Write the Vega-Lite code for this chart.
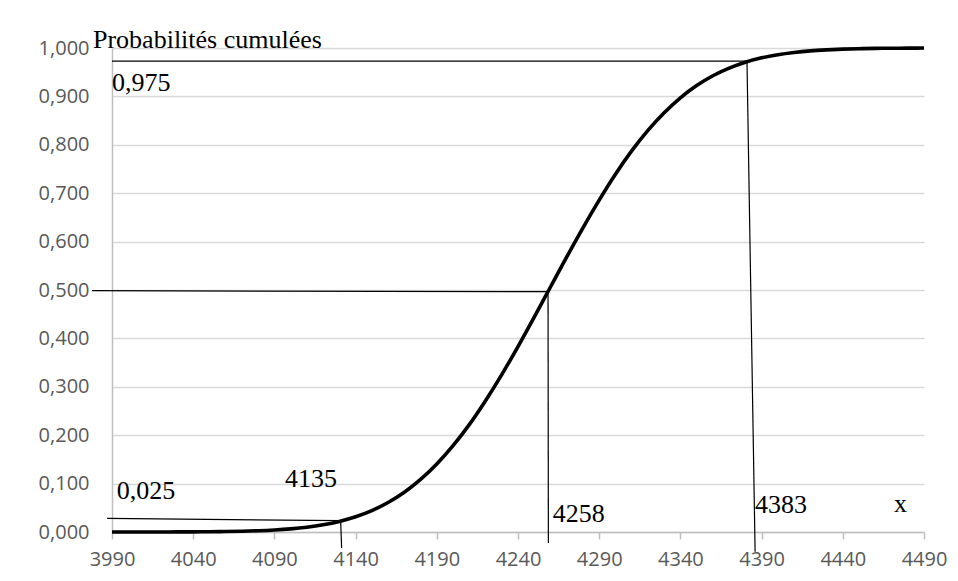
{
  "$schema": "https://vega.github.io/schema/vega-lite/v6.json",
  "width": 812,
  "height": 484,
  "autosize": {"type": "none"},
  "padding": {"left": 112, "top": 48, "right": 34, "bottom": 49},
  "background": "white",
  "config": {"view": {"stroke": null}},
  "datasets": {
    "curve": [
      {"x": 3990, "p": 0.0000132}, {"x": 4000, "p": 0.000026}, {"x": 4010, "p": 0.00005}, {"x": 4020, "p": 0.000094},
      {"x": 4030, "p": 0.000173}, {"x": 4040, "p": 0.000311}, {"x": 4050, "p": 0.000546}, {"x": 4060, "p": 0.000938},
      {"x": 4070, "p": 0.00157}, {"x": 4080, "p": 0.00258}, {"x": 4090, "p": 0.00414}, {"x": 4100, "p": 0.0065},
      {"x": 4110, "p": 0.00995}, {"x": 4120, "p": 0.01493}, {"x": 4130, "p": 0.0219}, {"x": 4140, "p": 0.0315},
      {"x": 4150, "p": 0.0443}, {"x": 4160, "p": 0.0609}, {"x": 4170, "p": 0.0821}, {"x": 4180, "p": 0.1086},
      {"x": 4190, "p": 0.1405}, {"x": 4200, "p": 0.1783}, {"x": 4210, "p": 0.2218}, {"x": 4220, "p": 0.2713},
      {"x": 4230, "p": 0.3253}, {"x": 4240, "p": 0.3832}, {"x": 4250, "p": 0.4439}, {"x": 4260, "p": 0.5062},
      {"x": 4270, "p": 0.5683}, {"x": 4280, "p": 0.6285}, {"x": 4290, "p": 0.6858}, {"x": 4300, "p": 0.7392},
      {"x": 4310, "p": 0.7873}, {"x": 4320, "p": 0.8297}, {"x": 4330, "p": 0.8663}, {"x": 4340, "p": 0.8972},
      {"x": 4350, "p": 0.9225}, {"x": 4360, "p": 0.9427}, {"x": 4370, "p": 0.9585}, {"x": 4380, "p": 0.9707},
      {"x": 4390, "p": 0.9797}, {"x": 4400, "p": 0.9862}, {"x": 4410, "p": 0.9908}, {"x": 4420, "p": 0.9941},
      {"x": 4430, "p": 0.9962}, {"x": 4440, "p": 0.9977}, {"x": 4450, "p": 0.9986}, {"x": 4460, "p": 0.99916},
      {"x": 4470, "p": 0.99951}, {"x": 4480, "p": 0.99972}, {"x": 4490, "p": 0.99985}
    ],
    "segs": [
      {"x": 3990, "y": 0.973, "x2": 4381, "y2": 0.973},
      {"x": 4381, "y": 0.973, "x2": 4386, "y2": -0.041},
      {"x": 3977.7, "y": 0.4986, "x2": 4258.5, "y2": 0.4965},
      {"x": 4258.5, "y": 0.4965, "x2": 4258.7, "y2": -0.0227},
      {"x": 3987, "y": 0.0283, "x2": 4130.8, "y2": 0.0233},
      {"x": 4130.8, "y": 0.0233, "x2": 4131.4, "y2": -0.033}
    ],
    "labels": [
      {"label": "Probabilités cumulées", "x": 3978.3, "y": 1.0},
      {"label": "0,975", "x": 3990, "y": 0.911},
      {"label": "0,025", "x": 3993, "y": 0.068},
      {"label": "4135", "x": 4096.5, "y": 0.0936},
      {"label": "4258", "x": 4261.4, "y": 0.0213},
      {"label": "4383", "x": 4386, "y": 0.0386},
      {"label": "x", "x": 4471.5, "y": 0.042}
    ]
  },
  "layer": [
    {
      "data": {"name": "curve"},
      "mark": {"type": "line", "color": "black", "strokeWidth": 3.6, "interpolate": "monotone"},
      "encoding": {
        "x": {
          "field": "x", "type": "quantitative",
          "scale": {"domain": [3990, 4490], "nice": false, "zero": false},
          "axis": {
            "title": null, "grid": false,
            "values": [3990, 4040, 4090, 4140, 4190, 4240, 4290, 4340, 4390, 4440, 4490],
            "format": "d",
            "labelFlush": false, "labelOverlap": false,
            "domainColor": "#bfbfbf", "domainWidth": 1.5,
            "tickColor": "#bfbfbf", "tickSize": 7, "tickWidth": 1.5,
            "labelColor": "#595959", "labelFont": "Open Sans", "labelFontSize": 20,
            "labelPadding": 10
          }
        },
        "y": {
          "field": "p", "type": "quantitative",
          "scale": {"domain": [0, 1], "nice": false},
          "axis": {
            "title": null,
            "values": [0, 0.1, 0.2, 0.3, 0.4, 0.5, 0.6, 0.7, 0.8, 0.9, 1],
            "labelExpr": "replace(format(datum.value, '.3f'), '.', ',')",
            "labelFlush": false, "labelOverlap": false,
            "grid": true, "gridColor": "#d9d9d9", "gridWidth": 1.5,
            "domainColor": "#bfbfbf", "domainWidth": 1.5,
            "ticks": false,
            "labelColor": "#595959", "labelFont": "Open Sans", "labelFontSize": 20,
            "labelPadding": 23
          }
        }
      }
    },
    {
      "data": {"name": "segs"},
      "mark": {"type": "rule", "color": "black", "strokeWidth": 1.2},
      "encoding": {
        "x": {"field": "x", "type": "quantitative"},
        "y": {"field": "y", "type": "quantitative"},
        "x2": {"field": "x2"},
        "y2": {"field": "y2"}
      }
    },
    {
      "data": {"name": "labels"},
      "mark": {"type": "text", "font": "Liberation Serif", "fontSize": 26, "color": "black", "align": "left", "baseline": "alphabetic"},
      "encoding": {
        "x": {"field": "x", "type": "quantitative"},
        "y": {"field": "y", "type": "quantitative"},
        "text": {"field": "label"}
      }
    }
  ]
}
